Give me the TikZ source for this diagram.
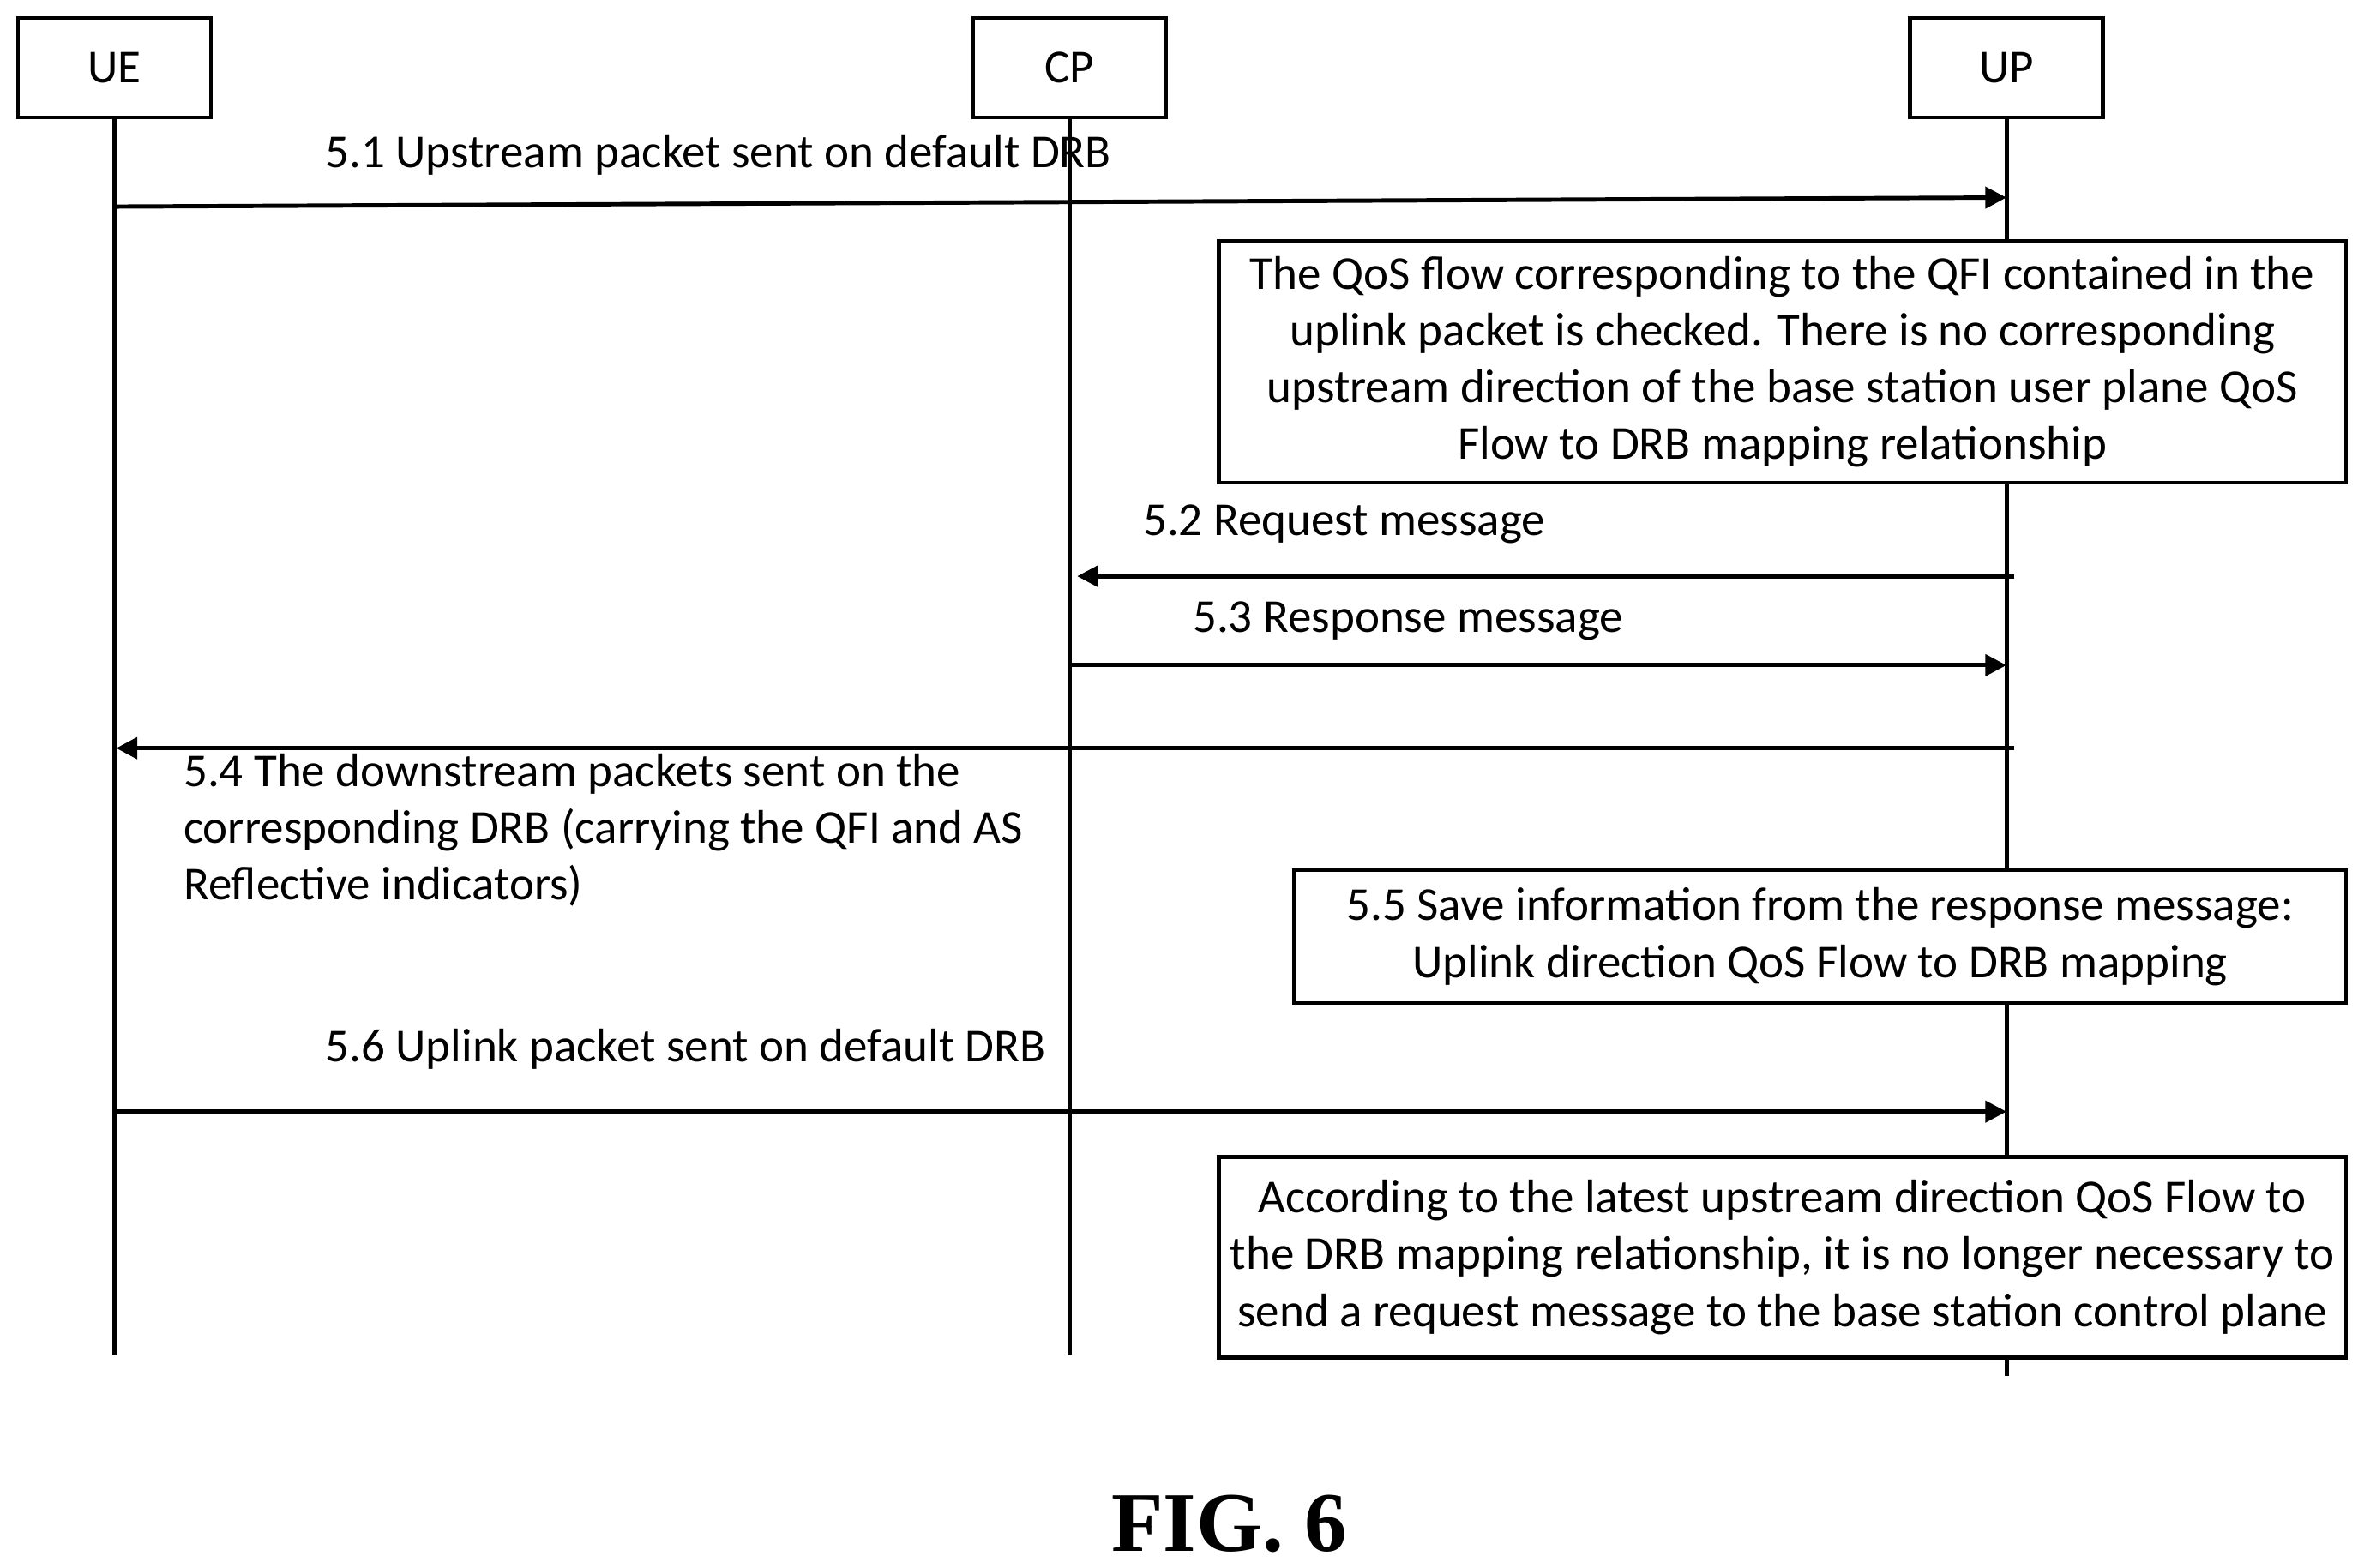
\documentclass[tikz,border=0pt]{standalone}
\usepackage{fontspec}
\setmainfont{Carlito}
\usetikzlibrary{positioning, arrows.meta, calc}

\tikzset{
    entity/.style={draw, line width=0.7pt, minimum width=1.28cm, minimum height=0.66cm, font=\fontsize{8.9pt}{10.7pt}\selectfont},
    note/.style={draw, fill=white, line width=0.7pt, align=center, inner sep=0pt, font=\fontsize{8.9pt}{10.7pt}\selectfont},
    msg/.style={font=\fontsize{8.9pt}{10.7pt}\selectfont, anchor=base west, inner sep=0pt, align=left},
    life/.style={line width=0.8pt},
    sig/.style={line width=0.8pt, -{Triangle[length=4pt, width=4pt]}},
}

\begin{document}
\begin{tikzpicture}
    \useasboundingbox (0,0) rectangle (15.67,-10.39);

    \node[entity] (ue) at (0.76,-0.45) {UE};
    \node[entity] (cp) at (7.09,-0.45) {CP};
    \node[entity] (up) at (13.30,-0.45) {UP};

    \coordinate (ueEnd) at (0.77,-8.98);
    \coordinate (cpEnd) at (7.10,-8.98);
    \coordinate (upEnd) at (13.30,-9.12);
    \draw[life] (ue.south) -- (ue.south |- ueEnd);
    \draw[life] (cp.south) -- (cp.south |- cpEnd);
    \draw[life] (up.south) -- (up.south |- upEnd);

    % notes on UP side
    \node[note, minimum width=7.47cm, minimum height=1.60cm] (chk) at (11.815,-2.40)
        {The QoS flow corresponding to the QFI contained in the\\uplink packet is checked. There is no corresponding\\upstream direction of the base station user plane QoS\\Flow to DRB mapping relationship};
    \node[note, minimum width=6.97cm, minimum height=0.88cm] (save) at (12.065,-6.21)
        {5.5 Save information from the response message:\\Uplink direction QoS Flow to DRB mapping};
    \node[note, minimum width=7.47cm, minimum height=1.33cm] (latest) at (11.815,-8.335)
        {According to the latest upstream direction QoS Flow to\\the DRB mapping relationship, it is no longer necessary to\\send a request message to the base station control plane};

    % messages
    \coordinate (m1a) at (0.77,-1.37);
    \coordinate (m1b) at (13.30,-1.31);
    \draw[sig] (m1a) -- (m1b);
    \node[msg] at (2.15,-1.11) {5.1 Upstream packet sent on default DRB};

    \coordinate (m2a) at (13.35,-3.82);
    \coordinate (m2b) at (7.14,-3.82);
    \draw[sig] (m2a) -- (m2b);
    \node[msg] at (7.57,-3.55) {5.2 Request message};

    \coordinate (m3a) at (7.10,-4.41);
    \coordinate (m3b) at (13.30,-4.41);
    \draw[sig] (m3a) -- (m3b);
    \node[msg] at (7.90,-4.19) {5.3 Response message};

    \coordinate (m4a) at (13.35,-4.96);
    \coordinate (m4b) at (0.77,-4.96);
    \draw[sig] (m4a) -- (m4b);
    \node[msg, anchor=north west] at (1.21,-4.99) {5.4 The downstream packets sent on the\\corresponding DRB (carrying the QFI and AS\\Reflective indicators)};

    \coordinate (m6a) at (0.77,-7.37);
    \coordinate (m6b) at (13.30,-7.37);
    \draw[sig] (m6a) -- (m6b);
    \node[msg] at (2.15,-7.04) {5.6 Uplink packet sent on default DRB};

    \node[font=\fontsize{16pt}{18pt}\selectfont\bfseries\fontspec{Liberation Serif}] (fig) at (8.15,-10.10) {FIG. 6};
\end{tikzpicture}
\end{document}
